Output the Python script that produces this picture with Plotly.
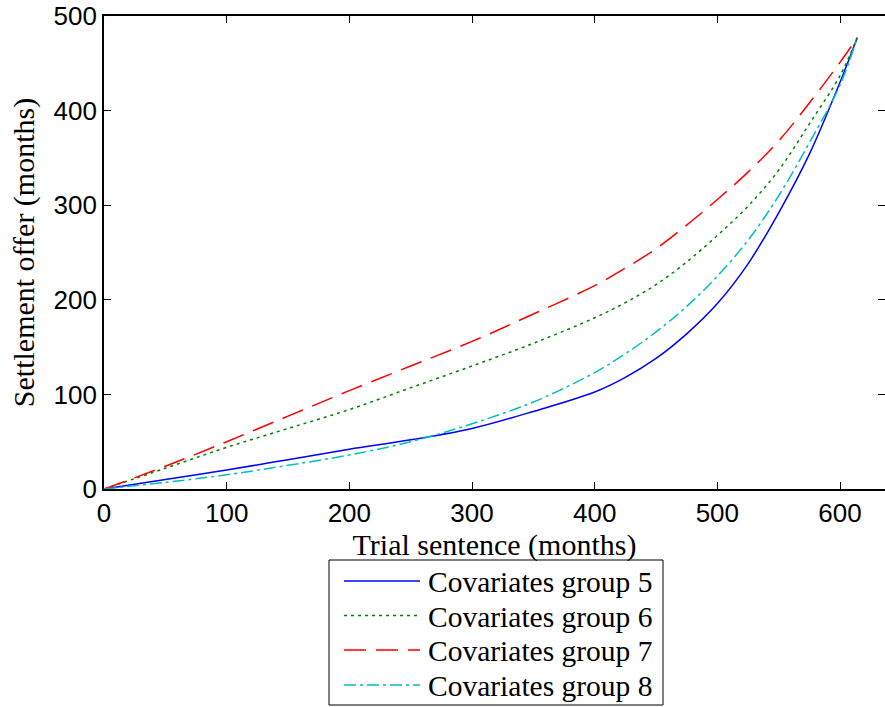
import plotly.graph_objects as go

# ---- data ----
trial_sentence = [0, 50, 100, 150, 200, 250, 300, 350, 400, 425, 450, 475, 500, 525, 550, 575, 600, 614]
group5 = [0, 10, 20, 31, 42, 52, 64, 82, 102.5, 118, 138, 164, 196, 238, 292, 354, 430, 477]
group6 = [0, 22, 44, 64, 84, 107, 130, 154, 181, 197, 216, 240, 268, 299, 337, 386, 437, 477]
group7 = [0, 24, 50, 77, 104, 130, 156, 185, 215, 233.5, 254, 279, 306, 335, 368, 408, 451, 477]
group8 = [0, 7, 15, 25, 36, 50, 69, 92, 123, 143, 166, 193, 225, 263, 310, 366, 427, 477]
series_names = ["Covariates group 5", "Covariates group 6", "Covariates group 7", "Covariates group 8"]
x_ticks = [0, 100, 200, 300, 400, 500, 600]
y_ticks = [0, 100, 200, 300, 400, 500]

# ---- styles ----
W, H = 885, 707
ML, MR, MT, MB = 104, 0, 16, 218
colors = ["#0000ff", "#008000", "#ff0000", "#00bfbf"]
dashes = ["solid", "3px,4px", "22px,10px", "12px,4px,3px,4px"]
serif = "Liberation Serif, Times New Roman, serif"
sans = "Liberation Sans, Arial, Helvetica, sans-serif"

fig = go.Figure()
for ys, name, c, d in zip([group5, group6, group7, group8], series_names, colors, dashes):
    fig.add_trace(go.Scatter(
        x=trial_sentence, y=ys, mode="lines", name=name,
        line=dict(color=c, width=1.5, dash=d, shape="spline", smoothing=1.0),
        showlegend=False,
    ))

pw = W - ML - MR
ph = H - MT - MB


def px2paper(px, py):
    return (px - ML) / pw, (H - MB - py) / ph


# ---- manual legend (MATLAB-style long line samples) ----
bx0, by0 = px2paper(329, 560)
bx1, by1 = px2paper(663, 705)
fig.add_shape(type="rect", xref="paper", yref="paper", x0=bx0, y0=by1, x1=bx1, y1=by0,
              line=dict(color="black", width=1), fillcolor="white", layer="above")
row_y = [581, 615.5, 650, 685]
for name, c, d, ry in zip(series_names, colors, dashes, row_y):
    lx0, ly = px2paper(344, ry)
    lx1, _ = px2paper(420, ry)
    fig.add_shape(type="line", xref="paper", yref="paper", x0=lx0, y0=ly, x1=lx1, y1=ly,
                  line=dict(color=c, width=1.5, dash=d), layer="above")
    tx, ty = px2paper(426, ry + 1)
    fig.add_annotation(xref="paper", yref="paper", x=tx, y=ty, text=name, showarrow=False,
                       xanchor="left", yanchor="middle", font=dict(family=serif, size=29.5, color="black"))

axis_common = dict(
    showline=True, linecolor="black", linewidth=1.8, mirror="ticks",
    ticks="inside", ticklen=7, tickwidth=1, tickcolor="black",
    showgrid=False, zeroline=False, ticklabeloverflow="allow",
    tickfont=dict(family=sans, size=26, color="black"),
)

fig.update_xaxes(range=[0, pw / 1.2267], tickvals=x_ticks, ticktext=[str(v) for v in x_ticks],
                 title=dict(text="Trial sentence (months)", font=dict(family=serif, size=30, color="black"),
                            standoff=2),
                 **axis_common)
fig.update_yaxes(range=[0, 500], tickvals=y_ticks, ticktext=[str(v) for v in y_ticks],
                 title=dict(text="Settlement offer (months)", font=dict(family=serif, size=30, color="black"),
                            standoff=10),
                 **axis_common)

fig.update_layout(
    width=W, height=H,
    margin=dict(l=ML, r=MR, t=MT, b=MB, autoexpand=False),
    plot_bgcolor="white", paper_bgcolor="white",
    showlegend=False,
)

# the page body has a default 8px margin; remove it so the figure sits at the window's corner
fig.write_html("out.html", config={"displayModeBar": False},
               post_script="document.body.style.margin='0px';document.body.style.overflow='hidden';")
